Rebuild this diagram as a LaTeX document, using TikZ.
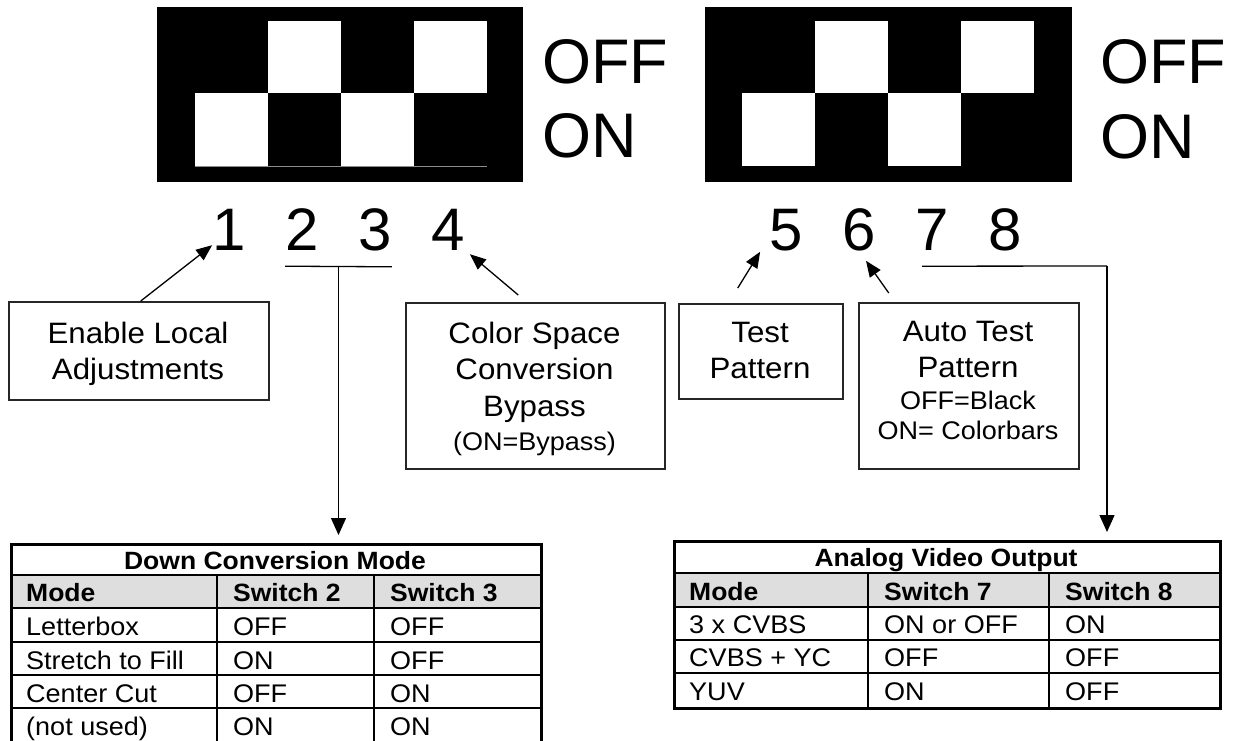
\documentclass[tikz,border=0pt]{standalone}
\usepackage{fontspec}
\setmainfont{Liberation Sans}
\newfontfamily\widefont[FakeStretch=1.06]{Liberation Sans}
\newcommand\smalltxt{\fontsize{25.5}{30}\selectfont}
\usetikzlibrary{arrows.meta}

\begin{document}
\begin{tikzpicture}[x=1pt,y=-1pt,
  box/.style={draw=black!85,line width=1.5pt,anchor=north west,inner sep=0pt},
  boxtext/.style={anchor=north,align=center,inner sep=0pt,font=\widefont\fontsize{29.5}{36}\selectfont},
  digit/.style={anchor=base,inner sep=0pt,font=\fontsize{60}{72}\selectfont},
  onoff/.style={anchor=base west,inner sep=0pt,font=\fontsize{63}{75}\selectfont},
  cell/.style={anchor=base west,inner sep=0pt,font=\widefont\fontsize{25.5}{28}\selectfont},
  hcell/.style={cell,font=\widefont\bfseries\fontsize{25}{28}\selectfont},
  tabframe/.style={draw,line width=3pt,anchor=north west,inner sep=0pt},
  rule/.style={line width=2.6pt},
  conn/.style={line width=1.3pt},
  arr/.style={conn,-{Triangle[length=16pt,width=13pt]}},
  bigarr/.style={conn,-{Triangle[length=17pt,width=15pt]}}]

\useasboundingbox (0,0) rectangle (1233,740);

%% switch blocks
\fill (157,7) rectangle (523,182);
\fill (705,7) rectangle (1072,182);
\foreach \b in {195,742} {
  \fill[white] (\b,93) rectangle +(73,73);
  \fill[white] (\b+73,21) rectangle +(73,72);
  \fill[white] (\b+146,93) rectangle +(73,73);
  \fill[white] (\b+219,21) rectangle +(73,72);
}
\draw[black!45,line width=0.7pt] (195,166) -- (487,166);

\node[onoff] (off1) at (542,83) {OFF};
\node[onoff] (on1) at (542,157) {ON};
\node[onoff] (off2) at (1100,83) {OFF};
\node[onoff] (on2) at (1100,158) {ON};

\foreach \n/\x in {1/229,2/302,3/375,4/448,5/786,6/859,7/932,8/1005}
  \node[digit] (d\n) at (\x,250) {\n};

%% labels
\node[box,minimum width=260pt,minimum height=98pt] (enable) at (8,301) {};
\node[box,minimum width=259pt,minimum height=166pt] (color) at (405,302) {};
\node[box,minimum width=164pt,minimum height=95pt] (test) at (678,303) {};
\node[box,minimum width=220pt,minimum height=166pt] (auto) at (858,302) {};

\node[boxtext] (enabletxt) at (138,322) {Enable Local\\Adjustments};
\node[boxtext] (colortxt) at (534.5,322) {Color Space\\Conversion\\[1pt]Bypass\\[-2pt]{\smalltxt (ON=Bypass)}};
\node[boxtext] (testtxt) at (760,322) {Test\\Pattern};
\node[boxtext] (autotxt) at (968,321) {Auto Test\\Pattern\\[-4pt]{\smalltxt OFF=Black}\\[-6pt]{\smalltxt ON= Colorbars}};

\draw[arr] ([xshift=2pt]enable.north) -- ([yshift=5pt]d1.south west);
\draw[arr] ([shift={(-17pt,7pt)}]color.north) -- ([shift={(5pt,-4pt)}]d4.south east);
\draw[arr] ([shift={(-23pt,15pt)}]test.north) -- ([shift={(-9pt,-1pt)}]d5.south west);
\draw[arr] ([shift={(-80pt,9pt)}]auto.north) -- ([shift={(7pt,-10pt)}]d6.south);

%% down conversion table
\fill[black!13] (10,575) rectangle (540,608);
\foreach \y in {575,608,642,675,708} \draw[rule] (10,\y) -- (540,\y);
\foreach \x in {217,374} \draw[rule] (\x,575) -- (\x,742);
\node[tabframe,minimum width=530pt,minimum height=200pt] (dcm) at (10,543) {};

\node[hcell,anchor=base] (dcmtitle) at (275,569.5) {Down Conversion Mode};
\foreach \t/\x [count=\i] in {Mode/26,Switch 2/233,Switch 3/390}
  \node[hcell] (dcmh\i) at (\x,601.5) {\t};
\foreach \y/\a/\b/\c [count=\r] in {635/Letterbox/OFF/OFF,669/Stretch to Fill/ON/OFF,
    702/Center Cut/OFF/ON,735/(not used)/ON/ON} {
  \node[cell] (dcm\r a) at (26,\y) {\a};
  \node[cell] (dcm\r b) at (233,\y) {\b};
  \node[cell] (dcm\r c) at (390,\y) {\c};
}

%% analog video table
\fill[black!13] (673,573) rectangle (1219,607);
\foreach \y in {573,607,640,673} \draw[rule] (673,\y) -- (1219,\y);
\foreach \x in {868,1049} \draw[rule] (\x,573) -- (\x,707);
\node[tabframe,minimum width=546pt,minimum height=167pt] (avo) at (673,540) {};

\node[hcell,anchor=base] (avotitle) at (946,566) {Analog Video Output};
\foreach \t/\x [count=\i] in {Mode/689,Switch 7/884,Switch 8/1065}
  \node[hcell] (avoh\i) at (\x,600) {\t};
\foreach \y/\a/\b/\c [count=\r] in {633.5/3 x CVBS/ON or OFF/ON,666.5/CVBS + YC/OFF/OFF,700/YUV/ON/OFF} {
  \node[cell] (avo\r a) at (689,\y) {\a};
  \node[cell] (avo\r b) at (884,\y) {\b};
  \node[cell] (avo\r c) at (1065,\y) {\c};
}

%% switch groups to tables
\draw[conn] ([yshift=-16pt]d2.south west) -- ([yshift=-16pt]d3.south east);
\coordinate (u23) at (338.5,266);
\draw[bigarr,shorten >=8pt] (u23) -- (u23 |- dcm.north);
\coordinate (u78) at (1107,266);
\draw[conn] ([shift={(7pt,-16pt)}]d7.south west) -- (u78);
\draw[bigarr,shorten >=8pt] (u78) -- (u78 |- avo.north);

\end{tikzpicture}
\end{document}
